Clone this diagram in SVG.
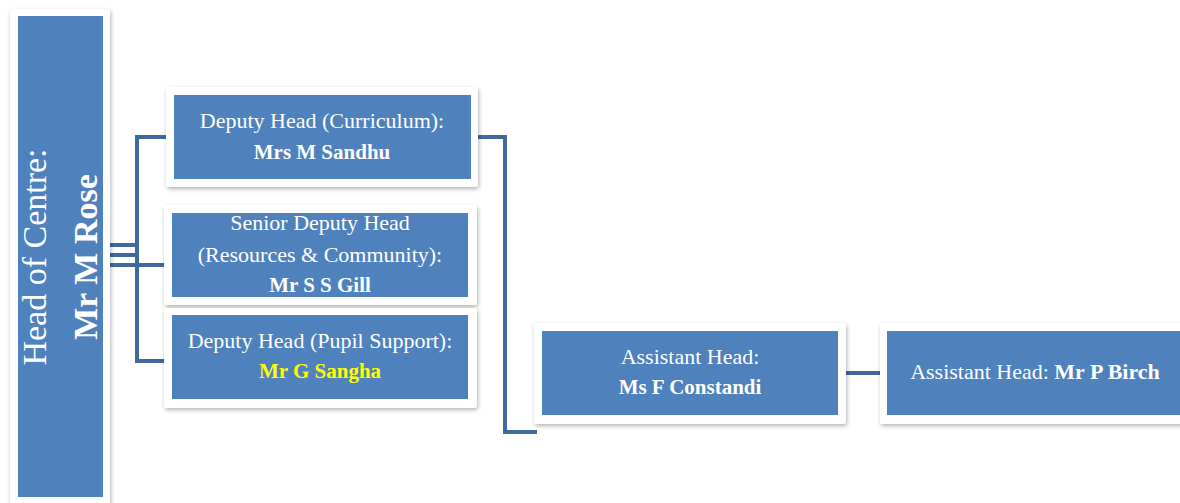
<svg xmlns="http://www.w3.org/2000/svg" width="1180" height="503" viewBox="0 0 1180 503">
<defs>
<filter id="sh" x="-10%" y="-10%" width="120%" height="130%">
<feDropShadow dx="1" dy="2" stdDeviation="2" flood-color="#000" flood-opacity="0.3"/>
</filter>
<style>
.frame{fill:#fff;filter:url(#sh)}
.box{fill:#4F81BD}
.t{font-family:"Liberation Serif","DejaVu Serif",serif;fill:#fff;text-anchor:middle}
.n{font-size:22px}
.b{font-size:21px;font-weight:bold}
.ln{fill:none;stroke:#3E6A9E;stroke-width:4;stroke-linejoin:miter}
</style>
</defs>
<rect width="1180" height="503" fill="#fff"/>
<g id="connectors">
<path class="ln" d="M110 245H136M110 255H136M110 265H164"/>
<path class="ln" d="M166 137H137V361H166"/>
<path class="ln" d="M478 137H505V432H537"/>
<path class="ln" d="M846 373H880"/>
</g>
<g id="head">
<rect class="frame" x="10" y="9" width="100" height="500" rx="3"/>
<rect class="box" x="18" y="16" width="85" height="481"/>
<text class="t" style="font-size:34px" transform="translate(46,257) rotate(-90)">Head of Centre:</text>
<text class="t" style="font-size:34px;font-weight:bold" transform="translate(97,257) rotate(-90)">Mr M Rose</text>
</g>
<g id="curriculum">
<rect class="frame" x="166" y="87" width="312" height="100" rx="3"/>
<rect class="box" x="174" y="95" width="297" height="84"/>
<text class="t n" x="322" y="128">Deputy Head (Curriculum):</text>
<text class="t b" x="322" y="159">Mrs M Sandhu</text>
</g>
<g id="senior">
<rect class="frame" x="164" y="205" width="313" height="100" rx="3"/>
<rect class="box" x="172" y="213" width="296" height="84"/>
<text class="t n" x="320" y="230">Senior Deputy Head</text>
<text class="t n" x="320" y="262">(Resources &amp; Community):</text>
<text class="t b" x="320" y="292">Mr S S Gill</text>
</g>
<g id="pupil">
<rect class="frame" x="164" y="308" width="313" height="100" rx="3"/>
<rect class="box" x="172" y="315" width="296" height="84"/>
<text class="t n" x="320" y="348">Deputy Head (Pupil Support):</text>
<text class="t b" x="320" y="378" style="fill:#FFFF00">Mr G Sangha</text>
</g>
<g id="constandi">
<rect class="frame" x="534" y="323" width="312" height="101" rx="3"/>
<rect class="box" x="542" y="331" width="296" height="84"/>
<text class="t n" x="690" y="364">Assistant Head:</text>
<text class="t b" x="690" y="394">Ms F Constandi</text>
</g>
<g id="birch">
<rect class="frame" x="880" y="323" width="312" height="101" rx="3"/>
<rect class="box" x="887" y="331" width="300" height="84"/>
<text class="t n" x="1035" y="379">Assistant Head: <tspan style="font-weight:bold">Mr P Birch</tspan></text>
</g>
</svg>
